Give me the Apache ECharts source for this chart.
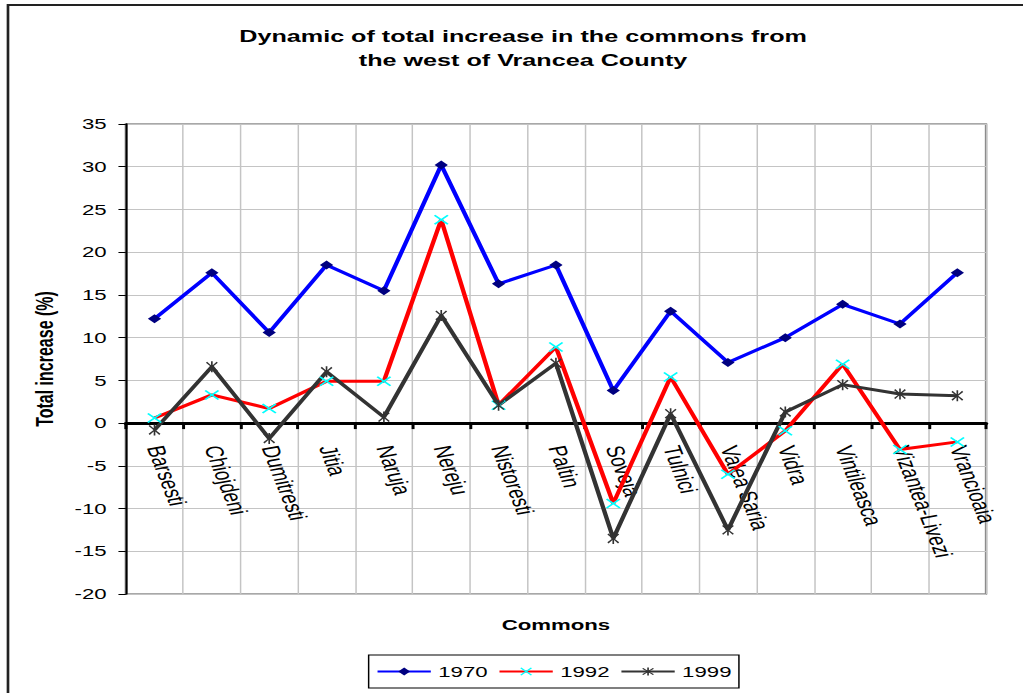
<!DOCTYPE html>
<html>
<head>
<meta charset="utf-8">
<title>Dynamic of total increase in the commons from the west of Vrancea County</title>
<script src="https://cdn.jsdelivr.net/npm/echarts@6/dist/echarts.min.js"></script>
<style>
  html, body { margin: 0; padding: 0; background: #ffffff; overflow: hidden; }
  /* the chart is laid out narrow and widened horizontally as a whole */
  #chart { width: 691px; height: 693px; transform: scaleX(1.4805); transform-origin: 0 0; }
</style>
</head>
<body>
<div id="chart"></div>
<script>
// Communes (x categories)
const communes = [
  'Barsesti', 'Chiojdeni', 'Dumitresti', 'Jitia', 'Naruja', 'Nereju',
  'Nistoresti', 'Paltin', 'Soveja', 'Tulnici', 'Valea Saria', 'Vidra',
  'Vintileasca', 'Vizantea-Livezi', 'Vrancioaia'
];

// Total increase (%) per commune
const increase1970 = [12.2, 17.6, 10.6, 18.5, 15.5, 30.2, 16.3, 18.5, 3.8, 13.1, 7.1, 10.0, 13.9, 11.6, 17.6];
const increase1992 = [0.6, 3.3, 1.7, 4.9, 4.9, 23.8, 2.1, 8.9, -9.4, 5.4, -6.0, -0.9, 6.9, -3.1, -2.2];
const increase1999 = [-0.8, 6.6, -1.8, 6.0, 0.7, 12.6, 2.1, 7.0, -13.5, 1.1, -12.5, 1.3, 4.5, 3.4, 3.2];

const seriesNames = ['1970', '1992', '1999'];

// Value axis range
const yMin = -20, yMax = 35, yStep = 5;

const titleText = 'Dynamic of total increase in the commons from\nthe west of Vrancea County';
const yAxisTitle = 'Total increase (%)';
const xAxisTitle = 'Commons';

const FONT = '"Liberation Sans", Arial, Helvetica, sans-serif';

// marker shapes
const crossPath = 'path://M0,1 L1,0 L5,4 L9,0 L10,1 L6,5 L10,9 L9,10 L5,6 L1,10 L0,9 L4,5 Z';
const starPath = 'path://M0,1.5 L1,0.5 L5,4.3 L9,0.5 L10,1.5 L5.8,5 L10,8.5 L9,9.5 L5,5.7 L1,9.5 L0,8.5 L4.2,5 Z M4.3,0 L5.7,0 L5.7,10 L4.3,10 Z';

const chart = echarts.init(document.getElementById('chart'), null, { renderer: 'svg' });

chart.setOption({
  backgroundColor: '#ffffff',
  animation: false,
  grid: {
    left: 85, right: 25, top: 124, bottom: 99,
    containLabel: false, outerBoundsMode: 'none',
    show: true, borderColor: '#8c8c8c', borderWidth: 1.6, backgroundColor: 'transparent'
  },
  graphic: [
    {
      type: 'rect', silent: true,
      shape: { x: 5.4, y: 5, width: 900, height: 900 },
      style: { fill: 'none', stroke: '#222222', lineWidth: 1.8 }
    },
    {
      type: 'text', x: 353.3, y: 48, silent: true,
      style: {
        text: titleText, align: 'center', verticalAlign: 'middle',
        font: 'bold 17px ' + FONT, lineHeight: 24, fill: '#000000'
      }
    },
    {
      type: 'text', x: 375.5, y: 625, silent: true,
      style: {
        text: xAxisTitle, align: 'center', verticalAlign: 'middle',
        font: 'bold 15px ' + FONT, fill: '#000000'
      }
    }
  ],
  legend: {
    data: seriesNames,
    left: 249, top: 655,
    orient: 'horizontal',
    itemWidth: 36, itemHeight: 10, itemGap: 7,
    padding: [9, 5],
    borderColor: '#000000', borderWidth: 1,
    textStyle: { fontFamily: FONT, fontSize: 15, color: '#000000' }
  },
  xAxis: {
    type: 'category',
    data: communes,
    position: 'bottom',
    boundaryGap: true,
    axisLine: { onZero: false, lineStyle: { color: '#000000', width: 3 } },
    axisTick: { show: true, alignWithLabel: false, length: 6, lineStyle: { color: '#000000', width: 2 } },
    axisLabel: {
      interval: 0, rotate: -75, margin: 23,
      fontFamily: FONT, fontSize: 17, color: '#000000'
    },
    splitLine: { show: true, interval: 0, lineStyle: { color: '#c4c4c4', width: 1 } }
  },
  yAxis: {
    type: 'value',
    min: yMin, max: yMax, interval: yStep,
    name: yAxisTitle,
    nameLocation: 'middle',
    nameGap: 47,
    nameTextStyle: { fontFamily: FONT, fontSize: 16, fontWeight: 'bold', color: '#000000' },
    axisLine: { show: true, onZero: false, lineStyle: { color: '#000000', width: 1.4 } },
    axisTick: { show: true, inside: false, length: 5, lineStyle: { color: '#000000', width: 1 } },
    axisLabel: { margin: 13, fontFamily: FONT, fontSize: 15, color: '#000000' },
    splitLine: { show: true, lineStyle: { color: '#c4c4c4', width: 1 } }
  },
  series: [
    {
      name: seriesNames[0], type: 'line', data: increase1970,
      symbol: 'diamond', symbolSize: 9, showAllSymbol: true,
      itemStyle: { color: '#000080' },
      lineStyle: { color: '#0000ff', width: 3 }
    },
    {
      name: seriesNames[1], type: 'line', data: increase1992,
      symbol: crossPath, symbolSize: [10, 10], showAllSymbol: true,
      itemStyle: { color: '#00ffff' },
      lineStyle: { color: '#ff0000', width: 3 }
    },
    {
      name: seriesNames[2], type: 'line', data: increase1999,
      symbol: starPath, symbolSize: [8, 11], showAllSymbol: true,
      itemStyle: { color: '#333333' },
      lineStyle: { color: '#333333', width: 3 }
    }
  ]
});

// move the category axis (line, ticks and labels) up to the zero level of the value axis
const zeroY = chart.convertToPixel({ yAxisIndex: 0 }, 0);
const floorY = chart.convertToPixel({ yAxisIndex: 0 }, yMin);
chart.setOption({ xAxis: { offset: -(floorY - zeroY) } });
</script>
</body>
</html>
